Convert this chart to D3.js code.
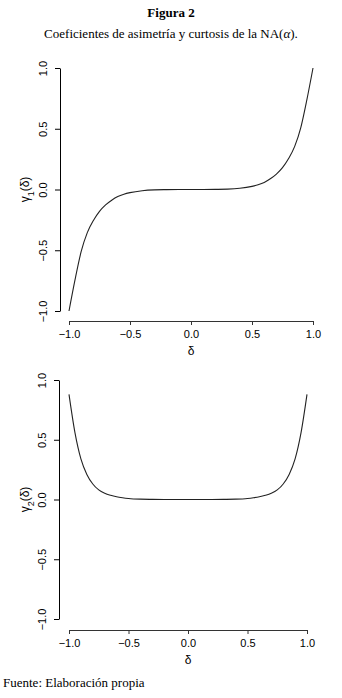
<!DOCTYPE html>
<html>
<head>
<meta charset="utf-8">
<script src="https://cdn.jsdelivr.net/npm/d3@7"></script>
<style>
  body { margin: 0; background: #fff; }
  svg { display: block; }
</style>
</head>
<body>
<div id="chart"></div>
<script>
// values
var delta  = [-1, -0.95, -0.9, -0.85, -0.8, -0.75, -0.7, -0.65, -0.6, -0.55, -0.5, -0.4, -0.3, -0.2, -0.1, 0,
              0.1, 0.2, 0.3, 0.4, 0.5, 0.55, 0.6, 0.65, 0.7, 0.75, 0.8, 0.85, 0.9, 0.95, 1];
var gamma1 = [-1.0, -0.74, -0.51, -0.355, -0.255, -0.18, -0.127, -0.088, -0.058, -0.039, -0.026, -0.01, -0.003, -0.001, 0, 0,
              0, 0.001, 0.003, 0.01, 0.026, 0.039, 0.058, 0.088, 0.127, 0.18, 0.255, 0.355, 0.51, 0.74, 1.0];
var gamma2 = [0.88, 0.56, 0.34, 0.21, 0.13, 0.08, 0.052, 0.035, 0.023, 0.015, 0.009, 0.003, 0.001, 0, 0, 0,
              0, 0, 0.001, 0.003, 0.009, 0.015, 0.023, 0.035, 0.052, 0.08, 0.13, 0.21, 0.34, 0.56, 0.88];
var xTicks = [-1, -0.5, 0, 0.5, 1];
var yTicks = [-1, -0.5, 0, 0.5, 1];

var width = 342, height = 698;

var svg = d3.select("#chart")
  .append("svg")
    .attr("width", width)
    .attr("height", height);

// title
svg.append("text")
    .attr("x", 171).attr("y", 17)
    .attr("text-anchor", "middle")
    .style("font-family", "'Liberation Serif', 'Times New Roman', serif")
    .style("font-weight", "bold")
    .style("font-size", "13px")
    .text("Figura 2");

var sub = svg.append("text")
    .attr("x", 171).attr("y", 38)
    .attr("text-anchor", "middle")
    .style("font-family", "'Liberation Serif', 'Times New Roman', serif")
    .style("font-size", "13px");
sub.append("tspan").text("Coeficientes de asimetría y curtosis de la NA(");
sub.append("tspan").style("font-style", "italic").text("α");
sub.append("tspan").text(").");

svg.append("text")
    .attr("x", 3).attr("y", 687)
    .style("font-family", "'Liberation Serif', 'Times New Roman', serif")
    .style("font-size", "13px")
    .text("Fuente: Elaboración propia");

var fmt = d3.format(".1f");

function panel(values, sub, cfg) {
  var x = d3.scaleLinear().domain([-1, 1]).range(cfg.xr);
  var y = d3.scaleLinear().domain([-1, 1]).range(cfg.yr);

  var g = svg.append("g")
    .style("font-family", "'Liberation Sans', Arial, sans-serif");

  var xa = g.append("g")
    .attr("transform", "translate(0," + cfg.xAxisY + ")")
    .call(d3.axisBottom(x).tickValues(xTicks).tickFormat(fmt).tickSize(4).tickSizeOuter(0).tickPadding(5));
  xa.selectAll("path, line").attr("stroke", "#333");
  xa.selectAll("text").style("font-size", "11px").attr("fill", "#000");

  var ya = g.append("g")
    .attr("transform", "translate(" + cfg.yAxisX + ",0)")
    .call(d3.axisLeft(y).tickValues(yTicks).tickFormat(fmt).tickSize(5).tickSizeOuter(0));
  ya.selectAll("path, line").attr("stroke", "#000");
  ya.selectAll("text")
    .attr("x", null).attr("dy", null)
    .attr("transform", "translate(-13,0) rotate(-90)")
    .attr("text-anchor", "middle")
    .attr("fill", "#000")
    .style("font-size", "11px");

  // axis titles
  g.append("text")
    .attr("x", d3.mean(cfg.xr)).attr("y", cfg.xAxisY + 34)
    .attr("text-anchor", "middle")
    .style("font-size", "12px")
    .text("δ");

  var yl = g.append("text")
    .attr("transform", "translate(29," + y(0) + ") rotate(-90)")
    .attr("text-anchor", "middle")
    .style("font-size", "12px");
  yl.append("tspan").text("γ");
  yl.append("tspan").attr("baseline-shift", "sub").style("font-size", "9px").text(sub);
  yl.append("tspan").text("(δ)");

  var line = d3.line()
    .x(function(d, i) { return x(delta[i]); })
    .y(function(d) { return y(d); })
    .curve(d3.curveMonotoneX);

  g.append("path")
    .datum(values)
    .attr("fill", "none")
    .attr("stroke", "#222")
    .attr("stroke-width", 1.1)
    .attr("d", line);
}

panel(gamma1, "1", { xr: [69, 313], yr: [311, 68], xAxisY: 321, yAxisX: 60 });
panel(gamma2, "2", { xr: [69, 307], yr: [619, 380], xAxisY: 630, yAxisX: 59 });
</script>
</body>
</html>
